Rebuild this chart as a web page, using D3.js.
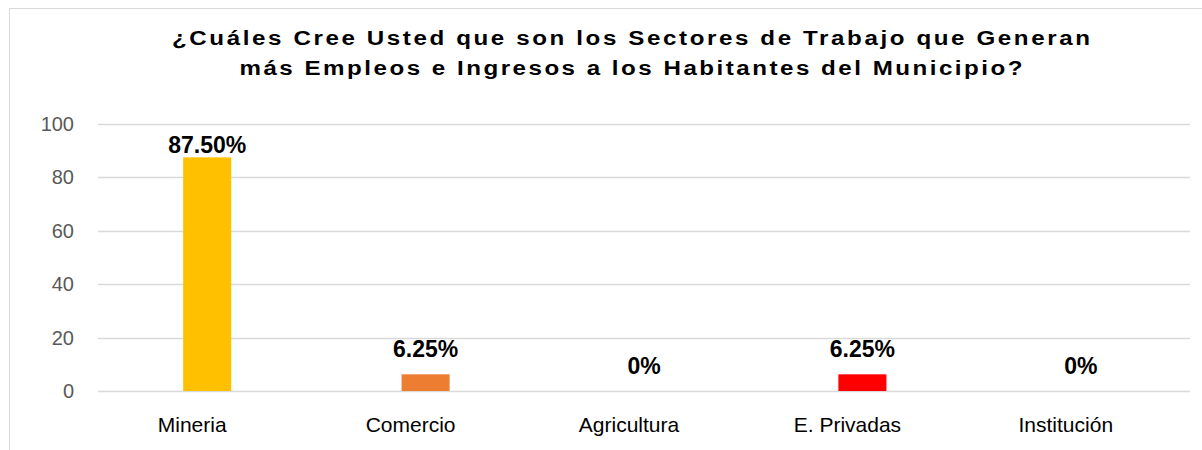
<!DOCTYPE html>
<html>
<head>
<meta charset="utf-8">
<script src="https://cdn.jsdelivr.net/npm/d3@7"></script>
<style>
body { margin: 0; background: #fff; }
text { font-family: "Liberation Sans", Arial, sans-serif; }
</style>
</head>
<body>
<svg width="1202" height="450"></svg>
<script>
var categories = ["Mineria", "Comercio", "Agricultura", "E. Privadas", "Institución"];
var values = [87.5, 6.25, 0, 6.25, 0];
var labels = ["87.50%", "6.25%", "0%", "6.25%", "0%"];
var colors = ["#ffc000", "#ed7d31", "#a5a5a5", "#ff0000", "#5b9bd5"];
var yTicks = [0, 20, 40, 60, 80, 100];
var titleLines = ["¿Cuáles Cree Usted que son los Sectores de Trabajo que Generan",
	"más Empleos e Ingresos a los Habitantes del Municipio?"];
var titleWidths = [918, 783];

var svg = d3.select("svg"),
	width = +svg.attr("width"),
	height = +svg.attr("height");

var margin = {left: 98, right: 14, top: 124, bottom: 59};
var stretch = 1.15; // the source picture is a little wider than tall

// chart frame (runs off the right and bottom of the picture)
svg.append("rect")
	.attr("x", 9.5).attr("y", 8.5)
	.attr("width", 1250).attr("height", 460)
	.attr("fill", "#fff")
	.attr("stroke", "#d9d9d9");

var x = d3.scaleBand()
	.domain(categories)
	.range([margin.left, width - margin.right + 2])
	.paddingInner(0.78)
	.paddingOuter(0.39);

var y = d3.scaleLinear()
	.domain([0, 100])
	.range([height - margin.bottom, margin.top]);

// gridlines
svg.append("g")
	.selectAll("line")
	.data(yTicks)
	.enter().append("line")
	.attr("x1", margin.left)
	.attr("x2", width - margin.right + 2)
	.attr("y1", function(d) { return Math.round(y(d)) + 0.5; })
	.attr("y2", function(d) { return Math.round(y(d)) + 0.5; })
	.attr("stroke", "#d9d9d9")
	.attr("stroke-width", 1.5);

var yAxis = svg.append("g")
	.attr("transform", "translate(" + (margin.left - 24) + ",0)")
	.call(d3.axisLeft(y).tickValues(yTicks).tickSize(0).tickPadding(0));
yAxis.select(".domain").remove();
yAxis.selectAll("text")
	.attr("fill", "#595959")
	.style("font-size", "20px")
	.style("font-family", "'Liberation Sans', Arial, sans-serif");

// bars
svg.append("g")
	.selectAll("rect")
	.data(values)
	.enter().append("rect")
	.attr("x", function(d, i) { return x(categories[i]); })
	.attr("y", function(d) { return y(d); })
	.attr("width", x.bandwidth())
	.attr("height", function(d) { return y(0) - y(d); })
	.attr("fill", function(d, i) { return colors[i]; });

// data labels, kept inside the plot area
svg.append("g")
	.selectAll("text")
	.data(values)
	.enter().append("text")
	.attr("x", function(d, i) { return x(categories[i]) + x.bandwidth() / 2; })
	.attr("y", function(d) { return Math.max(y(d) - 17, y(100) + 29); })
	.attr("text-anchor", "middle")
	.attr("font-weight", "bold")
	.attr("font-size", 23)
	.attr("fill", "#000")
	.text(function(d, i) { return labels[i]; });

// category labels
var xAxis = svg.append("g")
	.attr("transform", "translate(0," + y(0) + ")")
	.call(d3.axisBottom(x).tickSize(0).tickPadding(26));
xAxis.select(".domain").remove();
xAxis.selectAll("text")
	.attr("fill", "#000")
	.attr("dx", -15)
	.style("font-size", "21px")
	.style("font-family", "'Liberation Sans', Arial, sans-serif");

// title
svg.append("g")
	.attr("transform", "scale(" + stretch + ",1)")
	.selectAll("text")
	.data(titleLines)
	.enter().append("text")
	.attr("x", 631 / stretch)
	.attr("y", function(d, i) { return 45 + i * 30; })
	.attr("text-anchor", "middle")
	.attr("font-weight", "bold")
	.attr("font-size", 21)
	.attr("fill", "#000")
	.attr("textLength", function(d, i) { return titleWidths[i] / stretch; })
	.attr("lengthAdjust", "spacing")
	.text(function(d) { return d; });
</script>
</body>
</html>
